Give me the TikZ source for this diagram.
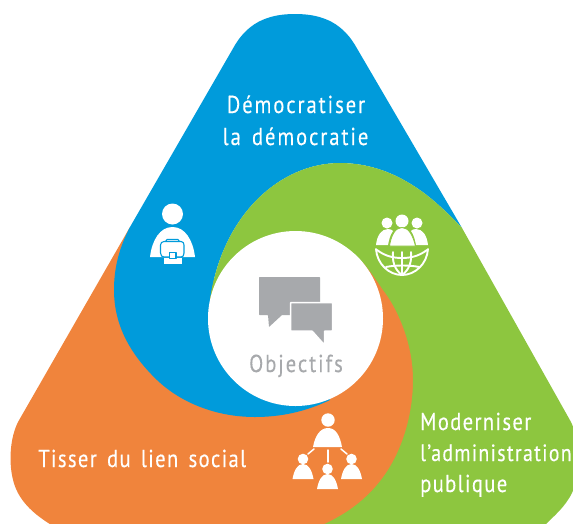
\documentclass[tikz,border=0pt]{standalone}
\usepackage{fontspec}
\setmainfont[LetterSpace=8,FakeStretch=0.84,FakeBold=0.25,WordSpace=1.5]{PT Sans}
\newfontfamily\tightfont[LetterSpace=5.6,FakeStretch=0.84,FakeBold=0.25,WordSpace=1.5]{PT Sans}
\definecolor{cblue}{HTML}{009BDB}
\definecolor{cgreen}{HTML}{8DC63F}
\definecolor{corange}{HTML}{F0843C}
\definecolor{cgrey}{HTML}{A7A9AC}
\tikzset{
  lab/.style={text=white,font=\fontsize{24.5}{24.5}\selectfont,inner sep=0pt},
  labc/.style={lab,anchor=base},
  labl/.style={text=white,font=\tightfont\fontsize{24.5}{24.5}\selectfont,inner sep=0pt,anchor=base west},
  iconline/.style={draw=white,line width=1.9pt,line cap=round},
  bagline/.style={draw=cblue,line width=1.1pt,line join=round},
  pers/.style={fill=white,draw=none,line join=round}
}
\newcommand{\smallperson}[2]{%
  \fill[pers] (#1,#2-20) circle (5.3);
  \fill[pers] (#1-10.5,#2) .. controls (#1-9,#2-8) and (#1-6,#2-15) .. (#1,#2-15)
     .. controls (#1+6,#2-15) and (#1+9,#2-8) .. (#1+10.5,#2) -- cycle;
}
\begin{document}
\begin{tikzpicture}[x=1pt,y=-1pt]
\useasboundingbox (0,0) rectangle (573,523);
\clip (0,0) rectangle (573,523);
% orange
\fill[corange] (130,227) -- (18,422) .. controls (8,442) and (8,475) .. (18,493)
  .. controls (26,508) and (40,518) .. (53,526) -- (420,526) -- (450,380) -- (400,250) -- (250,300) -- cycle;
% blue
\fill[cblue] (235,45) .. controls (250,20) and (272,14) .. (295,14)
  .. controls (318,14) and (340,20) .. (355,45) -- (462,228)
  .. controls (440,205) and (400,163) .. (340,163)
  .. controls (280,163) and (222,215) .. (210,300)
  -- (300,350) -- (330,400)
  .. controls (305,412) and (280,417) .. (255,417)
  .. controls (215,417) and (180,402) .. (157,380)
  .. controls (130,354) and (114,325) .. (114,290)
  .. controls (114,270) and (118,250) .. (130,227) -- cycle;
% green
\fill[cgreen] (210,300) .. controls (222,215) and (280,163) .. (340,163)
  .. controls (400,163) and (440,205) .. (462,228)
  -- (571,422) .. controls (580,440) and (580,475) .. (572,493)
  .. controls (565,507) and (555,515) .. (544,526) -- (320,526)
  .. controls (350,513) and (372,495) .. (388,470)
  .. controls (405,443) and (413,410) .. (413,380)
  .. controls (413,340) and (395,305) .. (383,290)
  .. controls (375,278) and (367,266) .. (355,254) -- (300,300) -- cycle;
% centre
\fill[white] (295.5,318.5) circle (87.5);
% speech bubbles
\fill[cgrey,rounded corners=0.6pt] (259,277) -- (320,277) -- (320,315) -- (282,315) -- (269,327) -- (268,315) -- (259,315) -- cycle;
\fill[cgrey,draw=white,line width=1.5pt,rounded corners=0.6pt] (290.5,302.5) -- (332.5,302.5) -- (332.5,331) -- (324.5,331) -- (324.5,345) -- (312,331) -- (290.5,331) -- cycle;
% labels
\node[labc] (t1) at (296,113) {Démocratiser};
\node[labc] (t2) at (295.5,145) {la démocratie};
\node[labc,text=cgrey] (t3) at (296,372) {Objectifs};
\node[labl] (t4) at (38,467) {Tisser du lien social};
\node[labl] (t5) at (420,430) {Moderniser};
\node[labl,font=\tightfont\fontsize{23.6}{23.6}\selectfont] (t6) at (420,461) {l’administration};
\node[labl] (t7) at (420,492) {publique};
% person with briefcase
\fill[pers] (172.5,214) circle (10.5);
\fill[pers] (150,257) .. controls (152,240) and (160,227) .. (172.5,227)
  .. controls (185,227) and (193,240) .. (195,257) -- cycle;
\path[fill=white,bagline] (160.5,245) .. controls (160.5,243) and (162,241.5) .. (164,241.5) -- (181,241.5)
  .. controls (183,241.5) and (184,243) .. (184,245) -- (184,253) .. controls (184,255.5) and (183,257) .. (181,257)
  -- (164,257) .. controls (162,257) and (160.5,255.5) .. (160.5,253) -- cycle;
\draw[bagline] (165.5,241.5) -- (167,239.5) -- (178,239.5) -- (179.5,241.5);
\fill[white] (163.5,257.6) rectangle (181.5,264);
\path[fill=white,bagline] (169.5,252.5) rectangle (176,258.5);
% globe and three people
\fill[pers] (387,223) circle (5.5);
\fill[pers] (417,223) circle (5.5);
\fill[pers] (402,221) circle (6.5);
\fill[pers] (376,245) .. controls (377,236) and (381,229) .. (388,229) .. controls (391,229) and (392,230) .. (393,231)
   .. controls (390,235) and (389,240) .. (388,245) -- cycle;
\fill[pers] (428,245) .. controls (427,236) and (423,229) .. (416,229) .. controls (413,229) and (412,230) .. (411,231)
   .. controls (414,235) and (415,240) .. (416,245) -- cycle;
\fill[pers,draw=cgreen,line width=0.8pt] (389.5,246) .. controls (391,236) and (395,227.5) .. (402,227.5) .. controls (409,227.5) and (413,236) .. (415.5,246) -- cycle;
\draw[iconline] (376,249) .. controls (377,264) and (389,275) .. (402,275) .. controls (415,275) and (427,264) .. (428,249);
\draw[iconline] (377,250) .. controls (385,256) and (393,258) .. (402,258) .. controls (411,258) and (419,256) .. (427,250);
\draw[iconline] (386,267) .. controls (395,265) and (410,265) .. (419,267);
\draw[iconline] (402,252) -- (402,275);
\draw[iconline] (393,252) .. controls (392,262) and (395,270) .. (402,275);
\draw[iconline] (411,252) .. controls (412,262) and (409,270) .. (402,275);
% hierarchy
\fill[pers] (328,420) circle (6.7);
\fill[pers] (313,447) .. controls (315,436) and (320,428) .. (328,428)
  .. controls (336,428) and (340,436) .. (342,447) -- cycle;
\draw[iconline,line width=1.5pt] (308,454) -- (314,449);
\draw[iconline,line width=1.5pt] (328,450) -- (328,462);
\draw[iconline,line width=1.5pt] (341,449) -- (347,454);
\smallperson{303}{479}
\smallperson{351.5}{479}
\smallperson{327.5}{489}
\end{tikzpicture}
\end{document}
